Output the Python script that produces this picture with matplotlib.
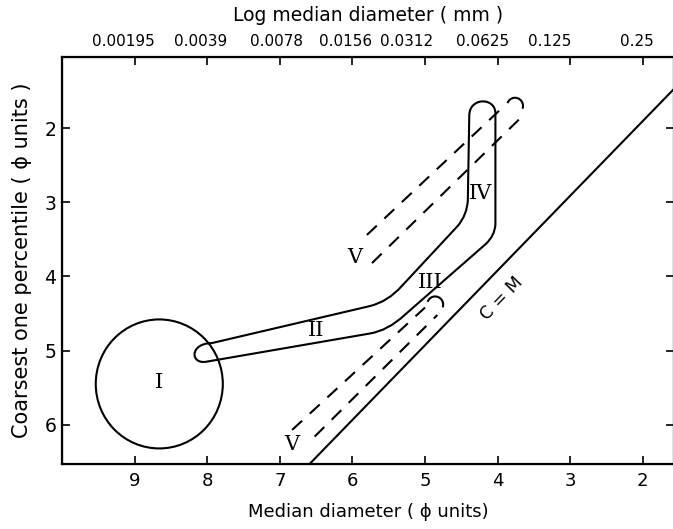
import matplotlib
matplotlib.use("Agg")
import matplotlib.pyplot as plt
from matplotlib.path import Path
from matplotlib.patches import PathPatch, Ellipse, Arc

# axis ticks
phi_ticks = [9, 8, 7, 6, 5, 4, 3, 2]
y_ticks = [2, 3, 4, 5, 6]
top_labels = ['0.00195', '0.0039', '0.0078', '0.0156', '0.0312', '0.0625', '0.125', '0.25']
top_label_pos = [9.15, 8.09, 7.04, 6.09, 5.26, 4.21, 3.28, 2.08]

# field I (circle)
circle_center = (8.66, 5.45)
circle_w, circle_h = 1.75, 1.74

# fields II-III-IV outline (x, y in phi units)
band_x = [7.94, 5.76, 5.51, 5.32, 4.55, 4.42, 4.41, 4.39, 4.39, 4.03, 4.03,
          4.03, 4.04, 4.16, 5.28, 5.51, 5.76, 8.01, 8.24, 8.24, 7.94]
band_y = [4.90, 4.40, 4.34, 4.13, 3.32, 3.17, 2.97, 1.83, 1.58, 1.58, 1.80,
          3.30, 3.45, 3.56, 4.52, 4.73, 4.77, 5.15, 5.19, 4.90, 4.90]
band_codes = [Path.MOVETO, Path.LINETO, Path.CURVE3, Path.CURVE3, Path.LINETO,
              Path.CURVE3, Path.CURVE3, Path.LINETO, Path.CURVE4, Path.CURVE4,
              Path.CURVE4, Path.LINETO, Path.CURVE3, Path.CURVE3, Path.LINETO,
              Path.CURVE3, Path.CURVE3, Path.LINETO, Path.CURVE4, Path.CURVE4,
              Path.CURVE4]

# field V dashed limits
v_upper_a = ([5.80, 3.93], [3.44, 1.72])
v_upper_b = ([5.73, 3.65], [3.82, 1.83])
v_lower_a = ([6.83, 5.00], [6.07, 4.42])
v_lower_b = ([6.52, 4.83], [6.16, 4.52])
v_caps = [(3.76, 1.70), (4.86, 4.38)]

# C = M line
cm_x = [6.59, 1.50]
cm_y = [6.53, 1.40]

fig = plt.figure(figsize=(6.73, 5.29), dpi=100)
ax = fig.add_axes([62/673, 65/529, 612/673, 407/529])
ax.set_xlim(10.0, 1.57)
ax.set_ylim(6.53, 1.04)

lw = 1.5
ax.add_patch(Ellipse(circle_center, circle_w, circle_h, fill=False, lw=lw, color='black'))
ax.add_patch(PathPatch(Path(list(zip(band_x, band_y)), band_codes), fill=False, lw=lw,
                       edgecolor='black'))

for xs, ys in [v_upper_a, v_upper_b, v_lower_a, v_lower_b]:
    ax.plot(xs, ys, color='black', lw=lw, linestyle=(0, (6.5, 5)))
for c in v_caps:
    ax.add_patch(Arc(c, 0.22, 0.22, theta1=160, theta2=340, lw=lw, color='black'))

ax.plot(cm_x, cm_y, color='black', lw=lw)
ax.text(3.94, 4.30, 'C = M', rotation=46, fontsize=12.5, ha='center', va='center')

serif = 'DejaVu Serif'
ax.text(8.66, 5.43, 'I', fontsize=15, family=serif, ha='center', va='center')
ax.text(6.50, 4.73, 'II', fontsize=15, family=serif, ha='center', va='center')
ax.text(4.93, 4.08, 'III', fontsize=15, family=serif, ha='center', va='center')
ax.text(4.23, 2.88, 'IV', fontsize=15, family=serif, ha='center', va='center')
ax.text(5.97, 3.74, 'V', fontsize=15, family=serif, ha='center', va='center')
ax.text(6.83, 6.27, 'V', fontsize=15, family=serif, ha='center', va='center')

ax.set_xticks(phi_ticks)
ax.set_yticks(y_ticks)
ax.tick_params(direction='in', length=6, width=1.2, labelsize=13, right=True, pad=6)
ax.tick_params(axis='y', pad=4, labelsize=13.5)
for s in ax.spines.values():
    s.set_linewidth(1.6)
ax.set_xlabel('Median diameter ( ϕ units)', fontsize=13, labelpad=9)
ax.set_ylabel('Coarsest one percentile ( ϕ units )', fontsize=15, labelpad=9)

top = ax.twiny()
top.set_xlim(ax.get_xlim())
top.set_xticks(phi_ticks, minor=True)
top.set_xticks(top_label_pos)
top.set_xticklabels(top_labels, fontsize=11)
top.tick_params(which='major', length=0, pad=6)
top.tick_params(which='minor', direction='in', length=6, width=1.2)
top.set_xlabel('Log median diameter ( mm )', fontsize=13.5, labelpad=9)

fig.savefig('out.png', dpi=100)
